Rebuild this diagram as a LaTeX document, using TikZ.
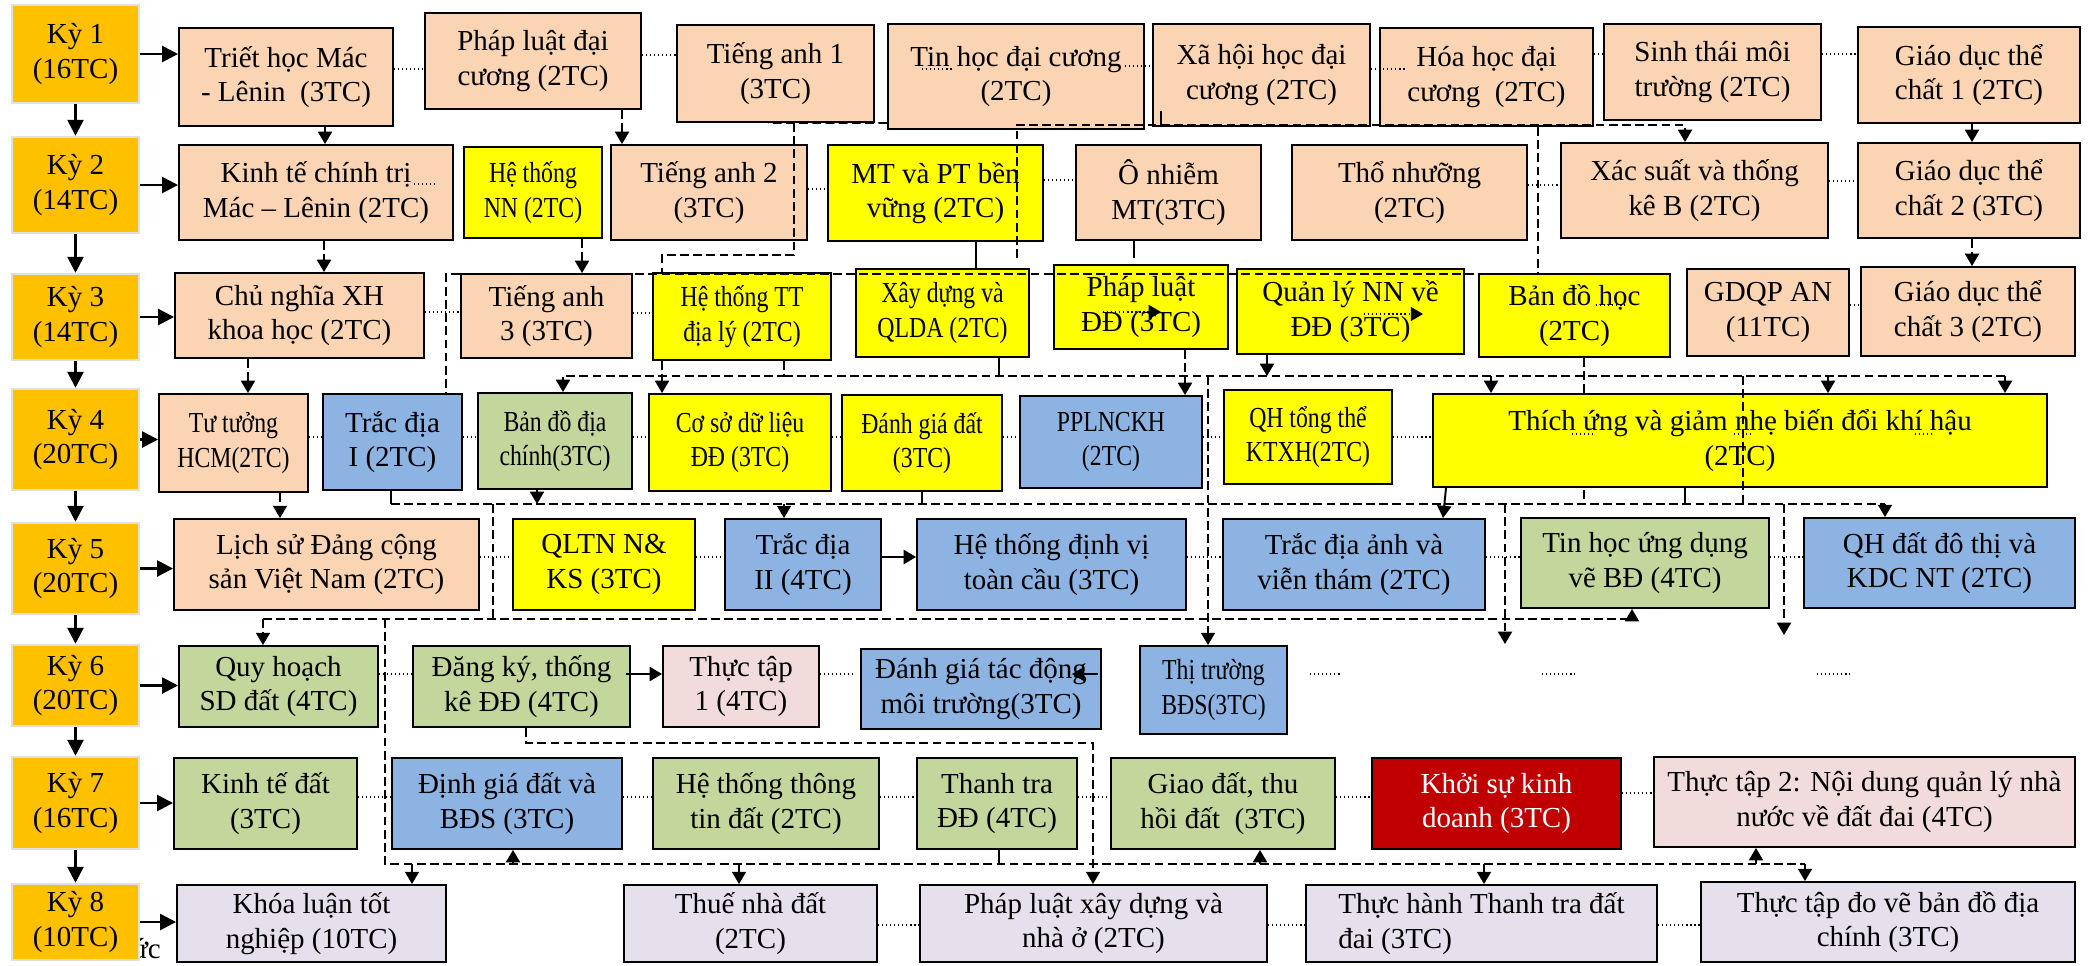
\documentclass[tikz,border=0pt]{standalone}
\usepackage{fontspec}
\setmainfont{Liberation Serif}
\newfontfamily\narrowfont[FakeStretch=0.82]{Liberation Serif}
\usetikzlibrary{arrows.meta,positioning}

\pgfdeclarelayer{background}
\pgfsetlayers{background,main}

\definecolor{kyorange}{HTML}{FFC000}
\definecolor{peach}{HTML}{FBD4B4}
\definecolor{ylw}{HTML}{FFFF00}
\definecolor{skyblue}{HTML}{8DB3E2}
\definecolor{olive}{HTML}{C3D69B}
\definecolor{rosy}{HTML}{F2DCDB}
\definecolor{lilac}{HTML}{E5E0EC}
\definecolor{darkred}{HTML}{C00000}

\tikzset{
  span/.style n args = {4}{at = {(0.5*#1+0.5*#3, 0.5*#2+0.5*#4)},
    minimum width = {(#3-#1)*0.02cm}, minimum height = {(#4-#2)*0.02cm}},
  course/.style = {draw, line width = 1.1pt, inner sep = 0pt, align = center},
  ky/.style = {course, fill = kyorange, draw = black!12, line width = 1.4pt},
  peachbox/.style = {course, fill = peach},
  yellowbox/.style = {course, fill = ylw},
  bluebox/.style = {course, fill = skyblue},
  greenbox/.style = {course, fill = olive},
  rosebox/.style = {course, fill = rosy},
  lilacbox/.style = {course, fill = lilac},
  redbox/.style = {course, fill = darkred, text = white},
  narrow/.style = {font = \fontsize{16.5}{19.5}\narrowfont},
  kyarrow/.style = {line width = 1.5pt, -{Triangle[length = 9pt, width = 9pt]}},
  solidarr/.style = {line width = 1.1pt, -{Triangle[length = 7pt, width = 8pt]}},
  arrowhd/.style = {-{Triangle[length = 7pt, width = 8pt]}},
  dep/.style = {line width = 0.9pt, dash pattern = on 5pt off 2.5pt},
  stub/.style = {line width = 0.9pt},
  link/.style = {line width = 0.7pt, dash pattern = on 0.7pt off 1.6pt}
}

\begin{document}
\begin{tikzpicture}[x = 0.02cm, y = -0.02cm, font = \fontsize{16.5}{19.5}\selectfont]
    \useasboundingbox (0, 0) rectangle (2089, 965);
    \begin{pgfonlayer}{background}
      \fill[white] (0, 0) rectangle (2089, 965);
      \node[anchor = base east, inner sep = 0pt] (stray) at (161, 958) {ức};
    \end{pgfonlayer}

    \node[ky, span = {12}{5}{139}{103}] (ky-1) {Kỳ 1\\(16TC)};
    \node[ky, span = {12}{137}{139}{233}] (ky-2) {Kỳ 2\\(14TC)};
    \node[ky, span = {12}{274}{139}{360}] (ky-3) {Kỳ 3\\(14TC)};
    \node[ky, span = {12}{389}{139}{490}] (ky-4) {Kỳ 4\\(20TC)};
    \node[ky, span = {12}{523}{139}{614}] (ky-5) {Kỳ 5\\(20TC)};
    \node[ky, span = {12}{645}{139}{726}] (ky-6) {Kỳ 6\\(20TC)};
    \node[ky, span = {12}{757}{139}{849}] (ky-7) {Kỳ 7\\(16TC)};
    \node[ky, span = {12}{884}{139}{960}] (ky-8) {Kỳ 8\\(10TC)};

    \node[peachbox, span = {179}{28}{393}{126}] (triet) {Triết học Mác\\- Lênin~ (3TC)};
    \node[peachbox, span = {425}{13}{641}{109}] (phap-luat-dc) {Pháp luật đại\\cương (2TC)};
    \node[peachbox, span = {677}{25}{874}{122}] (tieng-anh-1) {Tiếng anh 1\\(3TC)};
    \node[peachbox, span = {888}{24}{1144}{129}] (tin-hoc-dc) {Tin học đại cương\\(2TC)};
    \node[peachbox, span = {1153}{24}{1370}{126}] (xa-hoi) {Xã hội học đại\\cương (2TC)};
    \node[peachbox, span = {1380}{28}{1593}{126}] (hoa-hoc) {Hóa học đại\\cương~ (2TC)};
    \node[peachbox, span = {1604}{24}{1821}{120}] (sinh-thai) {Sinh thái môi\\trường (2TC)};
    \node[peachbox, span = {1858}{27}{2080}{123}] (gdtc-1) {Giáo dục thể\\chất 1 (2TC)};

    \node[peachbox, span = {179}{145}{453}{240}] (ktct) {Kinh tế chính trị\\Mác – Lênin (2TC)};
    \node[yellowbox, narrow, span = {464}{147}{602}{238}] (he-thong-nn) {Hệ thống\\NN (2TC)};
    \node[peachbox, span = {611}{145}{807}{240}] (tieng-anh-2) {Tiếng anh 2\\(3TC)};
    \node[yellowbox, span = {828}{145}{1043}{241}] (mt-pt) {MT và PT bền\\vững (2TC)};
    \node[peachbox, span = {1076}{145}{1261}{240}] (o-nhiem) {Ô nhiễm\\MT(3TC)};
    \node[peachbox, span = {1292}{145}{1527}{240}] (tho-nhuong) {Thổ nhưỡng\\(2TC)};
    \node[peachbox, span = {1561}{143}{1828}{238}] (xac-suat) {Xác suất và thống\\kê B (2TC)};
    \node[peachbox, span = {1858}{143}{2080}{238}] (gdtc-2) {Giáo dục thể\\chất 2 (3TC)};

    \node[peachbox, span = {175}{273}{424}{358}] (cnxh) {Chủ nghĩa XH\\khoa học (2TC)};
    \node[peachbox, span = {461}{274}{632}{358}] (tieng-anh-3) {Tiếng anh\\3 (3TC)};
    \node[yellowbox, narrow, span = {653}{273}{831}{360}] (httt-dia-ly) {Hệ thống TT\\địa lý (2TC)};
    \node[yellowbox, narrow, span = {856}{269}{1029}{357}] (qlda) {Xây dựng và\\QLDA (2TC)};
    \node[yellowbox, span = {1054}{265}{1228}{349}] (phap-luat-dd) {Pháp luật\\ĐĐ (3TC)};
    \node[yellowbox, span = {1237}{269}{1464}{354}] (qlnn) {Quản lý NN về\\ĐĐ (3TC)};
    \node[yellowbox, span = {1479}{274}{1670}{357}] (ban-do-hoc) {Bản đồ học\\(2TC)};
    \node[peachbox, span = {1687}{269}{1849}{356}] (gdqp) {GDQP AN\\(11TC)};
    \node[peachbox, span = {1861}{267}{2075}{356}] (gdtc-3) {Giáo dục thể\\chất 3 (2TC)};

    \node[peachbox, narrow, span = {159}{394}{308}{492}] (tu-tuong) {Tư tưởng\\HCM(2TC)};
    \node[bluebox, span = {323}{394}{462}{490}] (trac-dia-1) {Trắc địa\\I (2TC)};
    \node[greenbox, narrow, span = {478}{393}{632}{489}] (bd-dia-chinh) {Bản đồ địa\\chính(3TC)};
    \node[yellowbox, narrow, span = {649}{394}{831}{491}] (csdl) {Cơ sở dữ liệu\\ĐĐ (3TC)};
    \node[yellowbox, narrow, span = {842}{395}{1002}{491}] (danh-gia-dat) {Đánh giá đất\\(3TC)};
    \node[bluebox, narrow, span = {1020}{396}{1202}{488}] (pplnckh) {PPLNCKH\\(2TC)};
    \node[yellowbox, narrow, span = {1224}{390}{1392}{484}] (qh-tong-the) {QH tổng thể\\KTXH(2TC)};
    \node[yellowbox, span = {1433}{394}{2047}{487}] (thich-ung) {Thích ứng và giảm nhẹ biến đổi khí hậu\\(2TC)};

    \node[peachbox, span = {174}{519}{479}{610}] (lich-su) {Lịch sử Đảng cộng\\sản Việt Nam (2TC)};
    \node[yellowbox, span = {513}{519}{695}{610}] (qltn) {QLTN N\&\\KS (3TC)};
    \node[bluebox, span = {725}{519}{881}{610}] (trac-dia-2) {Trắc địa\\II (4TC)};
    \node[bluebox, span = {917}{519}{1186}{610}] (dinh-vi) {Hệ thống định vị\\toàn cầu (3TC)};
    \node[bluebox, span = {1223}{519}{1485}{610}] (trac-dia-anh) {Trắc địa ảnh và\\viễn thám (2TC)};
    \node[greenbox, span = {1521}{518}{1769}{608}] (tin-hoc-ud) {Tin học ứng dụng\\vẽ BĐ (4TC)};
    \node[bluebox, span = {1804}{518}{2075}{608}] (qh-do-thi) {QH đất đô thị và\\KDC NT (2TC)};

    \node[greenbox, span = {179}{646}{378}{727}] (quy-hoach) {Quy hoạch\\SD đất (4TC)};
    \node[greenbox, span = {413}{646}{630}{727}] (dang-ky) {Đăng ký, thống\\kê ĐĐ (4TC)};
    \node[rosebox, span = {663}{646}{819}{727}] (thuc-tap-1) {Thực tập\\1 (4TC)};
    \node[bluebox, span = {861}{649}{1101}{729}] (dgtd-mt) {Đánh giá tác động\\môi trường(3TC)};
    \node[bluebox, narrow, span = {1140}{646}{1287}{734}] (thi-truong) {Thị trường\\BĐS(3TC)};

    \node[greenbox, span = {174}{758}{357}{849}] (kinh-te-dat) {Kinh tế đất\\(3TC)};
    \node[bluebox, span = {392}{758}{622}{849}] (dinh-gia) {Định giá đất và\\BĐS (3TC)};
    \node[greenbox, span = {653}{758}{879}{849}] (httt-dat) {Hệ thống thông\\tin đất (2TC)};
    \node[greenbox, span = {917}{758}{1077}{849}] (thanh-tra) {Thanh tra\\ĐĐ (4TC)};
    \node[greenbox, span = {1111}{758}{1335}{849}] (giao-dat) {Giao đất, thu\\hồi đất~ (3TC)};
    \node[redbox, span = {1372}{758}{1621}{849}] (khoi-su) {Khởi sự kinh\\doanh (3TC)};
    \node[rosebox, span = {1654}{757}{2075}{847}] (thuc-tap-2) {Thực tập 2: Nội dung quản lý nhà\\nước về đất đai (4TC)};

    \node[lilacbox, span = {177}{885}{446}{962}] (khoa-luan) {Khóa luận tốt\\nghiệp (10TC)};
    \node[lilacbox, span = {624}{885}{877}{962}] (thue) {Thuế nhà đất\\(2TC)};
    \node[lilacbox, span = {920}{885}{1267}{962}] (pl-xay-dung) {Pháp luật xây dựng và\\nhà ở (2TC)};
    \node[lilacbox, align = left, span = {1306}{885}{1657}{962}] (thuc-hanh) {Thực hành Thanh tra đất\\đai (3TC)};
    \node[lilacbox, span = {1701}{882}{2075}{962}] (do-ve) {Thực tập đo vẽ bản đồ địa\\chính (3TC)};

    \foreach \a/\b in {ky-1/ky-2, ky-2/ky-3, ky-3/ky-4, ky-4/ky-5, ky-5/ky-6, ky-6/ky-7, ky-7/ky-8}
      \draw[kyarrow] (\a) -- (\b);
    \foreach \a/\b in {ky-1/triet, ky-2/ktct, ky-3/cnxh, ky-4/tu-tuong, ky-5/lich-su, ky-6/quy-hoach, ky-7/kinh-te-dat, ky-8/khoa-luan}
      \draw[kyarrow] (\a.east) -- (\a.east -| \b.west);

    \draw[link] (triet.east |- 0,69) -- (phap-luat-dc.west |- 0,69);
    \draw[link] (phap-luat-dc.east |- 0,55) -- (tieng-anh-1.west |- 0,55);
    \draw[link] (tin-hoc-dc.west |- 0,69) ++(35, 0) -- ++(31, 0);
    \draw[link] (tin-hoc-dc.east |- 0,66) ++(-20, 0) -- (xa-hoi.west |- 0,66);
    \draw[link] (xa-hoi.east |- 0,69) -- ++(36, 0);
    \draw[link] (hoa-hoc.east |- 0,54) -- (sinh-thai.west |- 0,54);
    \draw[link] (sinh-thai.east |- 0,54) -- (gdtc-1.west |- 0,54);
    \draw[link] (ktct.east |- 0,184) ++(-40, 0) -- ++(22, 0);
    \draw[link] (tieng-anh-2.east |- 0,189) -- (mt-pt.west |- 0,189);
    \draw[link] (mt-pt.east |- 0,180) -- (o-nhiem.west |- 0,180);
    \draw[link] (tho-nhuong.east |- 0,185) -- (xac-suat.west |- 0,185);
    \draw[link] (xac-suat.east |- 0,181) -- (gdtc-2.west |- 0,181);
    \draw[link] (cnxh.east |- 0,312) -- (tieng-anh-3.west |- 0,312);
    \draw[link] (tieng-anh-3.east |- 0,313) -- (httt-dia-ly.west |- 0,313);
    \draw[link, arrowhd] (phap-luat-dd.west |- 0,312) ++(50, 0) -- ++(58, 0);
    \draw[link, arrowhd] (qlnn.west |- 0,314) ++(128, 0) -- ++(59, 0);
    \draw[link] (ban-do-hoc.west |- 0,305) ++(118, 0) -- ++(29, 0);
    \draw[link] (gdqp.east |- 0,305) -- (gdtc-3.west |- 0,305);
    \foreach \a/\b in {tu-tuong/trac-dia-1, trac-dia-1/bd-dia-chinh, bd-dia-chinh/csdl, csdl/danh-gia-dat, danh-gia-dat/pplnckh, pplnckh/qh-tong-the, qh-tong-the/thich-ung}
      \draw[link] (\a.east |- 0,437) -- (\b.west |- 0,437);
    \draw[link] (thich-ung.west |- 0,434) ++(140, 0) -- ++(21, 0);
    \draw[link] (thich-ung.west |- 0,434) ++(302, 0) -- ++(19, 0);
    \draw[link] (thich-ung.west |- 0,434) ++(483, 0) -- ++(18, 0);
    \foreach \a/\b in {lich-su/qltn, qltn/trac-dia-2, dinh-vi/trac-dia-anh, trac-dia-anh/tin-hoc-ud, tin-hoc-ud/qh-do-thi}
      \draw[link] (\a.east |- 0,557) -- (\b.west |- 0,557);
    \draw[solidarr] (trac-dia-2.east |- 0,557) -- (dinh-vi.west |- 0,557);
    \draw[link] (quy-hoach.east |- 0,674) -- (dang-ky.west |- 0,674);
    \draw[solidarr] (dang-ky.east |- 0,674) ++(-5, 0) -- (thuc-tap-1.west |- 0,674);
    \draw[link] (thuc-tap-1.east |- 0,674) -- ++(33, 0);
    \draw[solidarr] (dgtd-mt.east |- 0,674) ++(-4, 0) -- ++(-26, 0);
    \draw[link] (thi-truong.east |- 0,674) ++(22, 0) -- ++(32, 0);
    \draw[link] (thi-truong.east |- 0,674) ++(254, 0) -- ++(33, 0);
    \draw[link] (thi-truong.east |- 0,674) ++(529, 0) -- ++(33, 0);
    \foreach \a/\b in {kinh-te-dat/dinh-gia, dinh-gia/httt-dat, httt-dat/thanh-tra, thanh-tra/giao-dat, giao-dat/khoi-su}
      \draw[link] (\a.east |- 0,797) -- (\b.west |- 0,797);
    \draw[link] (khoi-su.east |- 0,793) -- (thuc-tap-2.west |- 0,793);
    \foreach \a/\b in {thue/pl-xay-dung, pl-xay-dung/thuc-hanh, thuc-hanh/do-ve}
      \draw[link] (\a.east |- 0,925) -- (\b.west |- 0,925);

    \coordinate (bus3w) at (784, 376);
    \coordinate (bus3e) at (2005, 376);
    \coordinate (bus4w) at (391, 504);
    \coordinate (bus4e) at (1885, 504);
    \coordinate (bus5w) at (263, 619);
    \coordinate (bus5e) at (1632, 619);
    \coordinate (bus7w) at (385, 864);
    \coordinate (bus7e) at (1805, 864);
    \coordinate (free1) at (1505, 644);
    \coordinate (free2) at (1784, 635);

    \draw[dep, arrowhd] (triet.south -| 325,0) -- (ktct.north -| 325,0);
    \draw[dep, arrowhd] (phap-luat-dc.south -| 622,0) -- (tieng-anh-2.north -| 622,0);
    \draw[dep] (tin-hoc-dc.west |- 0,123) -- (tieng-anh-1.south -| 768,0);
    \draw[dep] (tieng-anh-1.south -| 794,0) |- (662, 255) -- (httt-dia-ly.north -| 662,0);
    \draw[stub] (xa-hoi.south -| 1161,0) -- ++(0, -16);
    \draw[dep, arrowhd] (mt-pt.south -| 1017,0) ++(0, 16) |- (1685, 125) -- (xac-suat.north -| 1685,0);
    \draw[dep, arrowhd] (gdtc-1.south -| 1972,0) -- (gdtc-2.north -| 1972,0);

    \draw[dep, arrowhd] (ktct.south -| 324,0) -- (cnxh.north -| 324,0);
    \draw[dep, arrowhd] (he-thong-nn.south -| 582,0) -- (tieng-anh-3.north -| 582,0);
    \draw[stub] (mt-pt.south -| 976,0) -- (qlda.north -| 976,0);
    \draw[stub] (o-nhiem.south -| 1134,0) -- ++(0, 17);
    \draw[dep] (hoa-hoc.south -| 1538,0) |- (446, 274) -- (trac-dia-1.north -| 446,0);
    \draw[dep, arrowhd] (gdtc-2.south -| 1972,0) -- (gdtc-3.north -| 1972,0);

    \draw[dep, arrowhd] (cnxh.south -| 248,0) -- (tu-tuong.north -| 248,0);
    \draw[dep, arrowhd] (httt-dia-ly.south -| 662,0) -- (csdl.north -| 662,0);
    \draw[dep, arrowhd] (httt-dia-ly.south -| bus3w) |- (563, 376) -- (bd-dia-chinh.north -| 563,0);
    \draw[dep] (bus3w) -- (bus3e);
    \draw[stub] (qlda.south -| 999,0) -- (bus3w -| 999,0);
    \draw[dep, arrowhd] (phap-luat-dd.south -| 1185,0) -- (pplnckh.north -| 1185,0);
    \draw[dep, arrowhd] (qlnn.south -| 1267,0) -- (bus3w -| 1267,0);
    \draw[dep, arrowhd] (bus3w -| 1208,0) -- (thi-truong.north -| 1208,0);
    \draw[dep, arrowhd] (bus3w -| 1491,0) -- (thich-ung.north -| 1491,0);
    \draw[dep, arrowhd] (bus3w -| 1828,0) -- (thich-ung.north -| 1828,0);
    \draw[dep, arrowhd] (bus3e) -- (thich-ung.north -| bus3e);
    \begin{pgfonlayer}{background}
      \draw[dep] (ban-do-hoc.south -| 1584,0) -- (bus4w -| 1584,0);
    \end{pgfonlayer}
    \draw[dep] (bus3w -| 1743,0) -- (bus4w -| 1743,0);

    \draw[dep, arrowhd] (tu-tuong.south -| 280,0) -- (lich-su.north -| 280,0);
    \draw[stub] (trac-dia-1.south -| bus4w) -- (bus4w);
    \draw[dep] (bus4w) -- (bus4e);
    \draw[dep, arrowhd] (bd-dia-chinh.south -| 537,0) -- (bus4w -| 537,0);
    \draw[dep, arrowhd] (bus4w -| 784,0) -- (trac-dia-2.north -| 784,0);
    \draw[stub] (danh-gia-dat.south -| 922,0) -- (bus4w -| 922,0);
    \draw[solidarr] (thich-ung.south -| 1446,0) -- (trac-dia-anh.north -| 1443,0);
    \draw[stub] (thich-ung.south -| 1685,0) -- (bus4w -| 1685,0);
    \draw[dep, arrowhd] (bus4e) -- (qh-do-thi.north -| bus4e);
    \draw[dep, arrowhd] (bus4w -| free1) -- (free1);
    \draw[dep, arrowhd] (bus4w -| free2) -- (free2);

    \draw[dep] (bus4w -| 493,0) -- (bus5w -| 493,0);
    \draw[dep] (bus5w) -- (bus5e);
    \draw[dep, arrowhd] (bus5w) -- (quy-hoach.north -| bus5w);
    \draw[dep, arrowhd] (bus5e) -- (tin-hoc-ud.south -| bus5e);

    \draw[dep, arrowhd] (dang-ky.south -| 526,0) |- (1093, 743) -- (pl-xay-dung.north -| 1093,0);

    \draw[dep] (bus5w -| bus7w) -- (bus7w) -- (bus7e);
    \draw[dep, arrowhd] (bus7w -| 412,0) -- (khoa-luan.north -| 412,0);
    \draw[dep, arrowhd] (bus7w -| 513,0) -- (dinh-gia.south -| 513,0);
    \draw[dep, arrowhd] (bus7w -| 739,0) -- (thue.north -| 739,0);
    \draw[stub] (thanh-tra.south -| 999,0) -- (bus7w -| 999,0);
    \draw[dep, arrowhd] (bus7w -| 1260,0) -- (giao-dat.south -| 1260,0);
    \draw[solidarr] (bus7w -| 1484,0) -- (thuc-hanh.north -| 1484,0);
    \draw[dep, arrowhd] (bus7w -| 1756,0) -- (thuc-tap-2.south -| 1756,0);
    \draw[dep, arrowhd] (bus7e) -- (do-ve.north -| bus7e);
  \end{tikzpicture}
\end{document}
